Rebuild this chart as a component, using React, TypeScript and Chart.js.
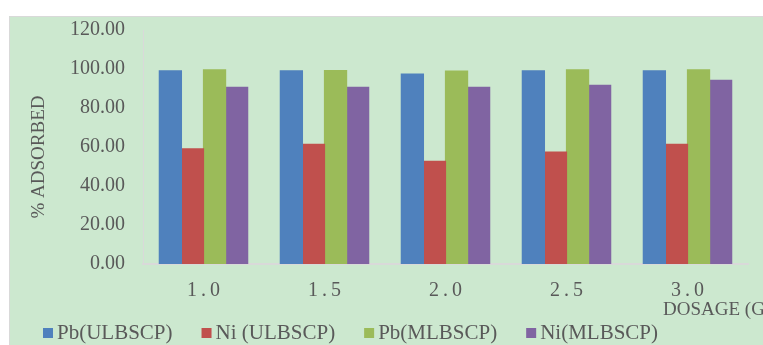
import React, { useEffect, useRef } from 'react';
import { Chart, registerables } from 'chart.js';

Chart.register(...registerables);

// Dosage categories (g) and percentage adsorbed per sorbent/metal
const dosages = ['1.0', '1.5', '2.0', '2.5', '3.0'];
const pbUlbscp = [99.0, 99.0, 97.4, 99.1, 99.0];
const niUlbscp = [59.0, 61.4, 52.7, 57.4, 61.4];
const pbMlbscp = [99.6, 99.2, 98.9, 99.6, 99.6];
const niMlbscp = [90.6, 90.6, 90.6, 91.6, 94.2];
const seriesNames = ['Pb(ULBSCP)', 'Ni (ULBSCP)', 'Pb(MLBSCP)', 'Ni(MLBSCP)'];
const seriesColors = ['#4f81bd', '#c0504d', '#9bbb59', '#8064a2'];
const yTickValues = [0, 20, 40, 60, 80, 100, 120];
const yTitle = '% ADSORBED';
const xTitle = 'DOSAGE (G)';

const TEXT = '#595959';
const PANEL = '#cce8cf';
const FRAME = '#d9d9d9';
const SERIF = '"Liberation Serif", "Times New Roman", serif';

// Page background, the green panel and the hand-placed texts/legend
const decorations = {
  id: 'decorations',
  beforeDraw(chart: any) {
    const { ctx, width, height } = chart;
    ctx.save();
    ctx.fillStyle = '#ffffff';
    ctx.fillRect(0, 0, width, height);
    ctx.fillStyle = PANEL;
    ctx.fillRect(9, 16, width - 9, height - 16);
    ctx.strokeStyle = FRAME;
    ctx.lineWidth = 1;
    ctx.beginPath();
    ctx.moveTo(9.5, height);
    ctx.lineTo(9.5, 16.5);
    ctx.lineTo(width, 16.5);
    ctx.stroke();
    ctx.restore();
  },
  afterDraw(chart: any) {
    const { ctx, chartArea } = chart;
    ctx.save();
    ctx.fillStyle = TEXT;

    // vertical axis title
    ctx.font = `19px ${SERIF}`;
    ctx.textAlign = 'center';
    ctx.textBaseline = 'middle';
    ctx.translate(39, (chartArea.top + chartArea.bottom) / 2 + 10);
    ctx.rotate(-Math.PI / 2);
    ctx.fillText(yTitle, 0, 0);
    ctx.setTransform(1, 0, 0, 1, 0, 0);

    // horizontal axis title (runs off the right edge)
    ctx.font = `19px ${SERIF}`;
    ctx.textAlign = 'left';
    ctx.fillText(xTitle, 663, 310);

    // legend row
    ctx.font = `21px ${SERIF}`;
    let x = 43;
    const y = 333;
    chart.data.datasets.forEach((ds: any) => {
      ctx.fillStyle = ds.backgroundColor;
      ctx.fillRect(x, y - 5, 10, 10);
      ctx.fillStyle = TEXT;
      ctx.fillText(ds.label, x + 14, y);
      x += 14 + ctx.measureText(ds.label).width + 29;
    });
    ctx.restore();
  },
};

export default function App() {
  const ref = useRef<HTMLCanvasElement | null>(null);

  useEffect(() => {
    if (!ref.current) return;
    const values = [pbUlbscp, niUlbscp, pbMlbscp, niMlbscp];
    const chart = new Chart(ref.current, {
      type: 'bar',
      data: {
        labels: dosages,
        datasets: values.map((v, i) => ({
          label: seriesNames[i],
          data: v,
          backgroundColor: seriesColors[i],
          borderWidth: 0,
          inflateAmount: 0.6,
          categoryPercentage: 0.73,
          barPercentage: 1,
        })),
      },
      options: {
        animation: false,
        responsive: false,
        maintainAspectRatio: false,
        layout: { padding: { left: 0, right: 15, top: 28, bottom: 0 } },
        plugins: { legend: { display: false }, tooltip: { enabled: false } },
        scales: {
          x: {
            grid: { display: false, drawTicks: false },
            border: { display: true, color: FRAME, width: 2 },
            ticks: {
              color: TEXT,
              font: { family: SERIF, size: 20 },
              padding: 15,
              maxRotation: 0,
              callback: function (this: any, val: any) {
                return String(this.getLabelForValue(val)).split('').join('\u2009');
              },
            },
            afterFit: (scale: any) => {
              scale.height = 81;
            },
          },
          y: {
            min: 0,
            max: 120,
            afterBuildTicks: (scale: any) => {
              scale.ticks = yTickValues.map((v) => ({ value: v }));
            },
            grid: { display: false, drawTicks: false },
            border: { display: true, color: FRAME, width: 1 },
            ticks: {
              color: TEXT,
              font: { family: SERIF, size: 20 },
              padding: 18,
              callback: (v: any) => Number(v).toFixed(2),
            },
            afterFit: (scale: any) => {
              scale.width = 143;
            },
          },
        },
      },
      plugins: [decorations],
    });
    return () => chart.destroy();
  }, []);

  return (
    <div style={{ position: 'fixed', left: 0, top: 0, width: 763, height: 345 }}>
      <canvas ref={ref} width={763} height={345} style={{ display: 'block', width: 763, height: 345 }} />
    </div>
  );
}
